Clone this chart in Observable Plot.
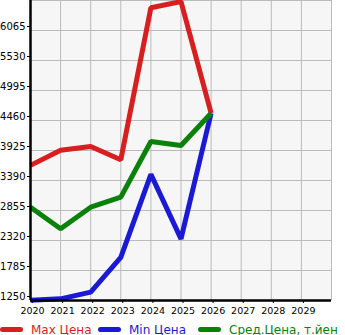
<!DOCTYPE html>
<html><head><meta charset="utf-8">
<script src="https://cdn.jsdelivr.net/npm/d3@7"></script>
<script src="https://cdn.jsdelivr.net/npm/@observablehq/plot@0.6"></script>
<style>
body{margin:0;background:#fff;font-family:"DejaVu Sans",sans-serif;}
#chart svg{display:block;}
#legend{position:relative;white-space:nowrap;font-size:12px;height:15px;}
.sw{display:inline-block;width:23px;height:5px;border-radius:3px;margin-right:8px;}
.it{position:absolute;top:0;display:flex;align-items:center;height:15px;}
</style>
</head><body>
<div id="chart"></div>
<div id="legend"></div>
<script>
const years = [2020, 2021, 2022, 2023, 2024, 2025, 2026];
const maxPrice = [3660, 3930, 3995, 3760, 6470, 6580, 4590];
const minPrice = [1255, 1280, 1400, 2020, 3500, 2350, 4590];
const avgPrice = [2914, 2530, 2914, 3093, 4085, 4014, 4590];
const yTicks = [1250, 1785, 2320, 2855, 3390, 3925, 4460, 4995, 5530, 6065];
const xTicks = [2020, 2021, 2022, 2023, 2024, 2025, 2026, 2027, 2028, 2029];
const seriesNames = ["Max Цена", "Min Цена", "Сред.Цена, т.йен"];
const seriesColors = ["#d81e1e", "#1a1ad6", "#0a820a"];
const legendLeft = [0, 98, 198];

const data = [];
[maxPrice, minPrice, avgPrice].forEach((arr, s) => arr.forEach((v, i) => data.push({year: years[i], value: v, series: seriesNames[s]})));

const chart = Plot.plot({
  width: 345, height: 322,
  marginLeft: 30, marginRight: 14, marginTop: 0, marginBottom: 22,
  style: {fontFamily: "DejaVu Sans, sans-serif", fontSize: "10px", color: "#000"},
  x: {domain: [2020, 2030], label: null},
  y: {domain: [1250, 6600], label: null, range: [300, 0]},
  color: {domain: seriesNames, range: seriesColors},
  marks: [
    Plot.frame({fill: "#f6f6f6"}),
    Plot.gridX(d3.range(2020, 2031), {stroke: "#bbb", strokeOpacity: 1, strokeWidth: 1}),
    Plot.gridY(d3.range(1250, 6601, 535), {stroke: "#bbb", strokeOpacity: 1, strokeWidth: 1}),
    Plot.axisY(yTicks, {tickSize: 3, tickPadding: 2, dy: -4, fontSize: 10, tickFormat: d => String(d)}),
    Plot.axisX(xTicks, {tickSize: 3, tickPadding: 4, fontSize: 9.5, tickFormat: d => String(d), dx: 2}),
    Plot.line(data, {x: "year", y: "value", z: "series", stroke: "series", strokeWidth: 5, strokeLinejoin: "miter", strokeLinecap: "butt"}),
    Plot.ruleX([2020], {stroke: "#000", strokeWidth: 2.5}),
    Plot.ruleY([1250], {stroke: "#000", strokeWidth: 2.5})
  ]
});
document.getElementById("chart").appendChild(chart);

const lg = document.getElementById("legend");
seriesNames.forEach((n, i) => {
  const it = document.createElement("span");
  it.className = "it";
  it.style.left = legendLeft[i] + "px";
  it.innerHTML = `<span class="sw" style="background:${seriesColors[i]}"></span><span style="color:${seriesColors[i]}">${n}</span>`;
  lg.appendChild(it);
});
</script>
</body></html>
